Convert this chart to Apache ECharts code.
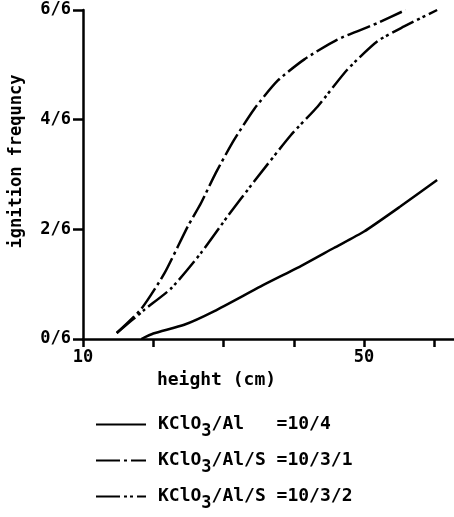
<!DOCTYPE html>
<html>
<head>
<meta charset="utf-8">
<script src="https://cdn.jsdelivr.net/npm/echarts@6/dist/echarts.min.js"></script>
<style>
  html, body { margin: 0; padding: 0; background: #fff; }
  #chart { width: 454px; height: 517px; }
</style>
</head>
<body>
<div id="chart"></div>
<script>
// height (cm) vs ignition frequency (in sixths)
const heightAl = [18.3, 20.0, 24.4, 28.7, 35.3, 41.0, 45.7, 50.0, 55.2, 60.4]
const freqAl = [0, 0.1, 0.26, 0.51, 0.96, 1.33, 1.66, 1.96, 2.42, 2.9]

const heightS1 = [14.8, 18.3, 21.6, 24.9, 26.8, 28.9, 31.5, 34.4, 37.7, 41.5, 46.2, 51.9, 55.9]
const freqS1 = [0.11, 0.55, 1.2, 2.05, 2.48, 3.03, 3.63, 4.2, 4.71, 5.1, 5.46, 5.76, 6.0]

const heightS2 = [14.8, 18.8, 22.6, 26.8, 30.6, 34.4, 39.6, 43.4, 47.6, 51.9, 55.7, 60.4]
const freqS2 = [0.11, 0.54, 0.93, 1.57, 2.24, 2.88, 3.72, 4.24, 4.91, 5.43, 5.70, 6.0]

const names = ['KClO3/Al   =10/4', 'KClO3/Al/S =10/3/1', 'KClO3/Al/S =10/3/2']
const xLabels = { 10: '10', 50: '50' }

const font = 'DejaVu Sans Mono'

function pairs(xs, ys) {
  return xs.map((x, i) => [x, ys[i]])
}

const chart = echarts.init(document.getElementById('chart'))

function lineSeries(name, data, dash) {
  return {
    name: name,
    type: 'line',
    smooth: 0.2,
    symbol: 'none',
    data: data,
    lineStyle: { color: '#000', width: 2.5, type: dash },
    itemStyle: { color: '#000' }
  }
}

chart.setOption({
  animation: false,
  grid: { left: 81, right: 0, top: 10, bottom: 178 },
  xAxis: {
    type: 'value',
    min: 10,
    max: 62.8,
    interval: 10,
    name: 'height (cm)',
    nameLocation: 'middle',
    nameGap: 30,
    nameTextStyle: { fontFamily: font, fontWeight: 'bold', fontSize: 18, color: '#000', padding: [0, 104, 0, 0] },
    axisLine: { lineStyle: { color: '#000', width: 2.5 } },
    axisTick: { length: 8, lineStyle: { color: '#000', width: 2.5 } },
    axisLabel: {
      showMaxLabel: false,
      color: '#000',
      fontFamily: font,
      fontWeight: 'bold',
      fontSize: 17,
      margin: 10,
      formatter: v => xLabels[v] || ''
    },
    splitLine: { show: false }
  },
  yAxis: {
    type: 'value',
    min: 0,
    max: 6,
    interval: 2,
    name: 'ignition frequncy',
    nameLocation: 'middle',
    nameGap: 58,
    nameTextStyle: { fontFamily: font, fontWeight: 'bold', fontSize: 17, color: '#000', padding: [0, 0, 0, 26] },
    axisLine: { lineStyle: { color: '#000', width: 2.5 } },
    axisTick: { length: 10, lineStyle: { color: '#000', width: 2.5 } },
    axisLabel: {
      color: '#000',
      fontFamily: font,
      fontWeight: 'bold',
      fontSize: 17,
      margin: 12,
      formatter: v => v + '/6'
    },
    splitLine: { show: false }
  },
  legend: {
    orient: 'vertical',
    left: 90,
    top: 404,
    height: 200,
    itemWidth: 50,
    itemHeight: 14,
    itemGap: 5,
    data: names,
    itemStyle: { color: 'rgba(0,0,0,0)', borderWidth: 0 },
    formatter: name => {
      const parts = name.split('3')
      return '{g|}{t|' + parts[0] + '}{s|3}{t|' + parts.slice(1).join('3') + '}'
    },
    textStyle: {
      rich: {
        g: { width: 7 },
        t: { fontFamily: font, fontWeight: 'bold', fontSize: 18, color: '#000', lineHeight: 20 },
        s: { fontFamily: font, fontWeight: 'bold', fontSize: 17, color: '#000', padding: [14, 0, 0, 0], lineHeight: 20 }
      }
    }
  },
  series: [
    lineSeries(names[0], pairs(heightAl, freqAl), 'solid'),
    lineSeries(names[1], pairs(heightS1, freqS1), [24, 4, 3, 4]),
    lineSeries(names[2], pairs(heightS2, freqS2), [24, 4, 3, 3, 3, 4])
  ]
})
</script>
</body>
</html>
